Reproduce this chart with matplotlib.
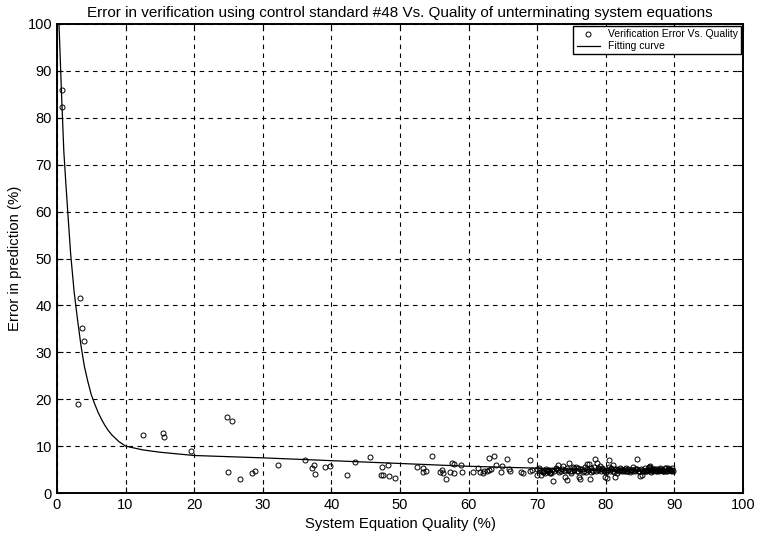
import matplotlib
matplotlib.use('Agg')
import matplotlib.pyplot as plt
import numpy as np

# scattered measurements (quality %, error %)
quality = [
    0.7, 0.8, 3.05, 3.3, 3.65, 3.95, 12.6, 15.5, 15.6, 19.6, 24.8, 25.5, 25.0, 26.7,
    28.5, 28.9, 32.2, 36.2, 37.2, 37.4, 37.6, 39.0, 39.75, 42.3, 43.5, 45.6, 47.2,
    47.5, 47.4, 48.3, 48.4, 49.2, 52.5, 53.3, 53.3, 53.8, 54.7, 55.8, 56.1, 56.3,
    56.7, 57.3, 57.6, 57.9, 57.9, 58.9, 59.1, 60.6, 61.4, 61.6, 62.1, 62.3, 62.7,
    62.9, 63.0, 63.3, 63.7, 64.0, 64.7, 64.8, 65.6, 65.9, 66.1, 67.7, 67.9, 68.9,
    69.0, 69.3, 69.9, 70.2, 70.5, 70.8, 71.0, 71.2, 71.5, 71.7, 71.9, 72.3, 72.5,
    72.8, 73.1, 73.4, 73.7, 73.9, 74.1, 74.3, 74.5, 74.7, 75.0, 75.2, 75.4, 75.7,
    75.9, 76.1, 76.3, 76.5, 76.8, 77.0, 77.2, 77.4, 77.6, 77.7, 77.9, 78.1, 78.4,
    78.5, 78.7, 78.8, 79.1, 79.3, 79.5, 79.7, 79.9, 80.1, 80.2, 80.4, 80.5, 80.6,
    80.8, 81.0, 81.1, 81.3, 81.4, 81.6, 81.8, 82.0, 82.3, 82.5, 82.7, 82.9, 83.1,
    83.3, 83.5, 83.7, 84.0, 84.2, 84.5, 84.6, 84.8, 85.0, 85.2, 85.3, 85.5, 85.7,
    85.9, 86.1, 86.3, 86.4, 86.5, 86.7, 86.9, 87.1, 87.4, 87.6, 87.7, 87.9, 88.1,
    88.3, 88.6, 88.8, 89.1, 89.3, 89.6, 89.8, 70.0, 70.7, 71.4, 72.0, 73.0, 74.8,
    76.0, 77.1, 78.0, 79.0, 80.0, 81.7, 82.2, 83.0, 83.8, 84.4, 85.6, 86.2, 86.6,
    87.2, 88.0, 88.4, 89.0, 89.5,
    70.4, 70.9, 71.3, 71.8, 72.2, 72.7, 73.2, 73.6, 74.0, 74.4, 74.9, 75.3, 75.8,
    76.2, 76.7, 77.3, 77.8, 78.3, 78.9, 79.4, 79.8, 80.3, 80.7, 81.2, 81.5, 81.9,
    82.4, 82.8, 83.2, 83.6, 83.9, 84.3, 84.7, 85.1, 85.4, 85.8, 86.0, 86.45, 86.8,
    87.0, 87.3, 87.5, 87.8, 88.2, 88.5, 88.7, 88.9, 89.2, 89.4, 89.7, 86.35, 86.55,
]
error = [
    85.9, 82.2, 18.9, 41.6, 35.2, 32.4, 12.3, 12.8, 12.0, 8.9, 16.2, 15.3, 4.5, 2.9,
    4.3, 4.6, 6.0, 7.1, 5.4, 5.9, 4.0, 5.5, 5.8, 3.9, 6.7, 7.6, 3.9,
    3.9, 5.6, 6.0, 3.6, 3.1, 5.5, 5.4, 4.4, 4.8, 8.0, 4.5, 5.0, 4.2,
    2.9, 4.5, 6.3, 6.1, 4.2, 6.0, 4.4, 4.4, 5.4, 4.4, 4.2, 4.6, 4.8,
    7.4, 5.0, 5.2, 7.8, 6.0, 4.4, 5.8, 7.2, 5.1, 4.6, 4.5, 4.3, 7.0,
    4.6, 4.9, 3.9, 5.3, 3.9, 4.4, 4.6, 4.3, 4.8, 5.0, 4.5, 2.6, 4.7,
    5.2, 6.0, 4.6, 5.8, 4.9, 3.4, 2.8, 5.0, 6.5, 4.7, 5.6, 5.3, 5.6,
    4.6, 3.5, 2.9, 5.1, 4.8, 5.5, 6.2, 4.9, 6.2, 3.0, 5.4, 4.6, 7.2,
    4.8, 6.5, 5.3, 5.8, 4.7, 5.2, 5.0, 3.4, 3.3, 4.9, 5.5, 7.0, 4.6,
    5.1, 4.7, 6.0, 3.5, 5.2, 4.3, 4.9, 5.4, 4.6, 5.0, 4.8, 5.3, 4.7,
    5.1, 4.5, 5.0, 5.6, 4.8, 7.2, 5.2, 4.6, 3.6, 5.0, 3.8, 4.8, 5.3,
    4.6, 5.0, 5.5, 5.7, 4.7, 5.1, 4.8, 5.2, 4.6, 5.0, 4.7, 5.3, 4.9,
    4.6, 5.4, 4.8, 5.4, 4.9, 5.4, 4.8, 5.2, 4.8, 4.7, 4.3, 5.0, 4.6,
    5.3, 4.4, 4.9, 5.1, 4.5, 4.9, 5.2, 4.7, 4.9, 5.1, 4.8, 5.0, 5.2,
    4.9, 5.1, 4.8, 5.0, 4.7,
    5.0, 4.5, 5.2, 4.3, 4.9, 5.3, 4.4, 5.1, 4.8, 5.4, 4.2, 5.0, 4.7,
    5.2, 4.5, 5.1, 4.4, 5.6, 4.9, 5.3, 4.6, 5.0, 5.3, 4.5, 5.1, 4.8,
    4.9, 5.2, 4.6, 5.0, 4.7, 5.1, 4.6, 5.2, 4.7, 5.0, 4.8, 5.3, 4.9,
    5.1, 4.7, 5.2, 4.9, 5.0, 4.6, 5.3, 4.8, 5.1, 4.9, 5.0, 5.5, 4.5,
]

# fitting curve
fit_x = [0.3, 0.5, 0.7, 1.0, 1.3, 1.6, 2.0, 2.5, 3.0, 3.5, 4.0, 4.5, 5.0, 5.5, 6.0,
         6.5, 7.0, 7.5, 8.0, 9.0, 10.0, 12.5, 15.0, 20.0, 30.0, 40.0, 50.0, 60.0,
         70.0, 80.0, 90.0]
fit_y = [100.0, 92.0, 84.0, 73.0, 66.0, 59.5, 51.0, 43.0, 37.0, 31.5, 27.0, 23.8, 21.0,
         19.0, 17.2, 15.7, 14.4, 13.3, 12.4, 11.0, 10.0, 9.2, 8.7, 8.0, 7.5, 6.9, 6.3,
         5.7, 5.3, 4.9, 4.6]

plt.rcParams['font.family'] = ['Liberation Sans', 'DejaVu Sans']

fig = plt.figure(figsize=(7.59, 5.38), dpi=100)
ax = fig.add_axes([0.075, 0.0836, 0.904, 0.8718])

ax.plot(quality, error, 'o', mfc='none', mec='black', ms=3.6, mew=0.7,
        label='Verification Error Vs. Quality')
ax.plot(fit_x, fit_y, '-', color='black', lw=0.9, label='Fitting curve')

ax.set_xlim(0, 100)
ax.set_ylim(0, 100)
ax.set_xticks(np.arange(0, 101, 10))
ax.set_yticks(np.arange(0, 101, 10))
ax.grid(True, color='black', linestyle=(0, (4, 4)), linewidth=0.8)
ax.tick_params(direction='in', top=True, right=True, length=4, labelsize=10.5)
for s in ax.spines.values():
    s.set_linewidth(1.4)

ax.set_title('Error in verification using control standard #48 Vs. Quality of unterminating system equations',
             fontsize=11, pad=5)
ax.set_xlabel('System Equation Quality (%)', fontsize=10.7)
ax.set_ylabel('Error in prediction (%)', fontsize=10.7)

leg = ax.legend(loc='upper right', fontsize=7.5, fancybox=False, framealpha=1,
                edgecolor='black', borderaxespad=0.2, handlelength=2.2,
                borderpad=0.3, labelspacing=0.2)
leg.get_frame().set_linewidth(1.0)

fig.savefig('out.png', dpi=100)
